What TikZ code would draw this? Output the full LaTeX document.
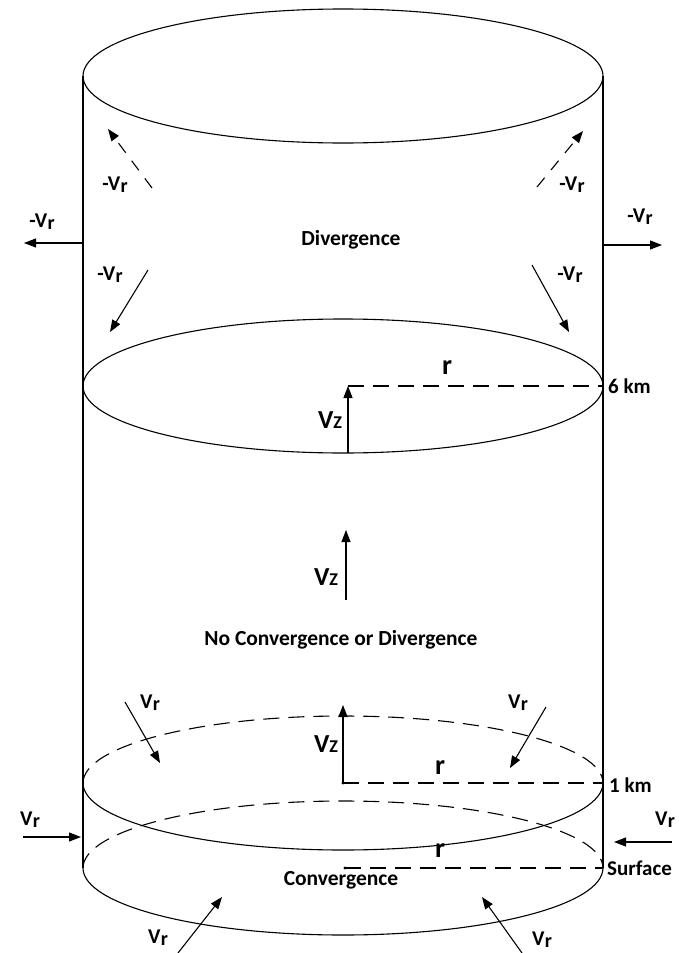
\documentclass[tikz,border=0pt]{standalone}
\usepackage{fontspec}
\setmainfont{Carlito}
\usetikzlibrary{arrows.meta}
\newcommand\myVr{V\kern0.3pt\raisebox{-2pt}{\fontsize{20}{21}\selectfont r}}
\newcommand\myVz{{\fontsize{26}{28}\selectfont V}{\fontsize{18}{20}\selectfont Z}}
\begin{document}
\begin{tikzpicture}[x=1pt,y=-1pt,
  cyl/.style={line width=1.1pt},
  dsh/.style={line width=1.1pt,dash pattern=on 16pt off 9pt},
  arr/.style={line width=1.1pt,-{Triangle[length=12pt,width=9pt]}},
  darr/.style={arr,dash pattern=on 12pt off 10pt},
  vrl/.style={font=\fontsize{21}{24}\selectfont\bfseries,inner sep=0pt},
  txt/.style={font=\fontsize{21.5}{24}\selectfont\bfseries,inner sep=0pt},
  kml/.style={font=\fontsize{21}{24}\selectfont\bfseries,inner sep=0pt,anchor=west},
  rlab/.style={font=\fontsize{28}{30}\selectfont\bfseries,inner sep=0pt},
  vzl/.style={font=\bfseries,inner sep=0pt}]
\useasboundingbox (0,0) rectangle (678,953);
% cylinder
\draw[cyl] (343,76) ellipse [x radius=260, y radius=67];
\draw[cyl] (343,386) ellipse [x radius=260, y radius=67];
\draw[cyl] (83,76) -- (83,868);
\draw[cyl] (603,76) -- (603,868);
% 1 km ellipse
\draw[dsh] (83,783) arc [start angle=180, end angle=360, x radius=260, y radius=67];
\draw[cyl] (83,783) arc [start angle=180, end angle=0, x radius=260, y radius=67];
% surface ellipse
\draw[dsh] (83,868) arc [start angle=180, end angle=360, x radius=260, y radius=67];
\draw[cyl] (83,868) arc [start angle=180, end angle=0, x radius=260, y radius=67];

% coordinates
\coordinate (a1s) at (152,188); \coordinate (a1e) at (108,129);
\coordinate (a2s) at (83,243);  \coordinate (a2e) at (24,243);
\coordinate (a3s) at (148,270); \coordinate (a3e) at (110,332);
\coordinate (a4s) at (537,187); \coordinate (a4e) at (583,131);
\coordinate (a5s) at (603,245); \coordinate (a5e) at (662,245);
\coordinate (a6s) at (532,265); \coordinate (a6e) at (569,332);
\coordinate (z6s) at (348,453); \coordinate (z6e) at (348,386);
\coordinate (r6e) at (603,386);
\coordinate (zms) at (346,600); \coordinate (zme) at (346,530);
\coordinate (z1s) at (343,783); \coordinate (z1e) at (343,705);
\coordinate (r1e) at (603,783);
\coordinate (b1s) at (125,702); \coordinate (b1e) at (160,763);
\coordinate (b2s) at (546,707); \coordinate (b2e) at (510,768);
\coordinate (c1s) at (23,837);  \coordinate (c1e) at (81,837);
\coordinate (c2s) at (672,842); \coordinate (c2e) at (614,842);
\coordinate (rss) at (345,868); \coordinate (rse) at (603,868);
\coordinate (d1s) at (178,953); \coordinate (d1e) at (222,897);
\coordinate (d2s) at (522,953); \coordinate (d2e) at (482,897);

% arrows
\draw[darr] (a1s) -- (a1e);
\draw[arr] (a2s) -- (a2e);
\draw[arr] (a3s) -- (a3e);
\draw[darr] (a4s) -- (a4e);
\draw[arr] (a5s) -- (a5e);
\draw[arr] (a6s) -- (a6e);
\draw[arr] (z6s) -- (z6e);
\draw[dsh] (z6e) -- (r6e);
\draw[arr] (zms) -- (zme);
\draw[arr] (z1s) -- (z1e);
\draw[dsh] (z1s) -- (r1e);
\fill (z1s) circle (1.6pt);
\draw[arr] (b1s) -- (b1e);
\draw[arr] (b2s) -- (b2e);
\draw[arr] (c1s) -- (c1e);
\draw[arr] (c2s) -- (c2e);
\draw[dsh] (rss) -- (rse);
\fill (rss) circle (1.6pt);
\draw[arr] (d1s) -- (d1e);
\draw[arr] (d2s) -- (d2e);

% labels
\node[vrl] (l1) at (115,185) {-\myVr};
\node[vrl] (l2) at (42,222) {-\myVr};
\node[vrl] (l3) at (110,275) {-\myVr};
\node[vrl] (l4) at (572,185) {-\myVr};
\node[vrl] (l5) at (640,217) {-\myVr};
\node[vrl] (l6) at (570,275) {-\myVr};
\node[txt] (div) at (351,240) {Divergence};
\node[rlab] (r6) at (447,368) {r};
\node[kml] (km6) at (608,386) {6 km};
\node[vzl] (vz6) at (330,420) {\myVz};
\node[vzl] (vzm) at (326,577) {\myVz};
\node[txt] (noc) at (341,640) {No Convergence or Divergence};
\node[vzl] (vz1) at (326,744) {\myVz};
\node[rlab] (r1) at (440,768) {r};
\node[kml] (km1) at (609,785) {1 km};
\node[vrl] (m1) at (150,703) {\myVr};
\node[vrl] (m2) at (518,703) {\myVr};
\node[vrl] (s1) at (30,820) {\myVr};
\node[vrl] (s2) at (665,820) {\myVr};
\node[rlab] (rs) at (440,851) {r};
\node[kml] (sur) at (607,868) {Surface};
\node[txt] (con) at (341,880) {Convergence};
\node[vrl] (e1) at (158,938) {\myVr};
\node[vrl] (e2) at (542,940) {\myVr};
\end{tikzpicture}
\end{document}
